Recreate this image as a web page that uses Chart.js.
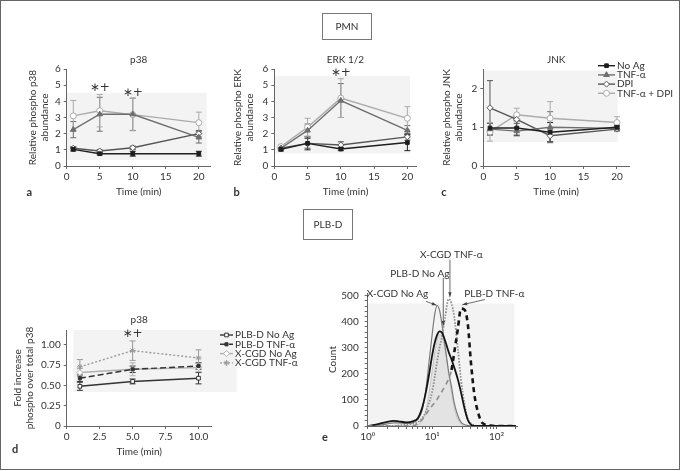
<!DOCTYPE html>
<html>
<head>
<meta charset="utf-8">
<title>MAPK phosphorylation in PMN and PLB-D cells</title>
<script src="https://cdn.jsdelivr.net/npm/chart.js@4.4.1/dist/chart.umd.min.js"></script>
<style>
  body { margin: 0; background: #fff; }
  #fig { position: relative; width: 681px; height: 471px; overflow: hidden; }
  #frame { position: absolute; left: 0; top: 0; width: 680px; height: 470px; box-sizing: border-box; border: 1px solid #666; }
  canvas { position: absolute; }
</style>
</head>
<body>
<div id="fig">
  <canvas id="tags" width="681" height="471" style="left:0;top:0"></canvas>
  <canvas id="chartA" width="230" height="150" style="left:0;top:50px"></canvas>
  <canvas id="chartB" width="210" height="150" style="left:220px;top:50px"></canvas>
  <canvas id="chartC" width="249" height="150" style="left:430px;top:50px"></canvas>
  <canvas id="chartD" width="300" height="156" style="left:0;top:305px"></canvas>
  <canvas id="chartE" width="220" height="200" style="left:320px;top:245px"></canvas>
  <div id="frame"></div>
</div>

<script>
/* ------------------- DATA: PMN time courses (a-c) ------------------- */
const pmnTimes = [1, 5, 10, 20];
const pmnLabels = ['No Ag', 'TNF-α', 'DPI', 'TNF-α + DPI'];

// a: p38
const p38NoAg = [1.03, 0.76, 0.76, 0.76];
const p38Tnf = [2.25, 3.2, 3.2, 1.77];
const p38Dpi = [1.1, 0.93, 1.13, 2.0];
const p38TnfDpi = [3.1, 3.42, 3.18, 2.68];
const p38NoAgErr = [0.1, 0.08, 0.15, 0.15];
const p38TnfErr = [0.5, 1.05, 1.0, 0.35];
const p38DpiErr = [0.1, 0.08, 0.1, 0.2];
const p38TnfDpiErr = [0.95, 1.0, 1.0, 0.65];
const p38Stars = [[5, 4.83], [10, 4.5]];

// b: ERK 1/2
const erkNoAg = [1.03, 1.4, 1.05, 1.45];
const erkTnf = [1.1, 2.2, 4.05, 2.2];
const erkDpi = [1.1, 1.4, 1.3, 1.8];
const erkTnfDpi = [1.2, 2.4, 4.2, 2.95];
const erkNoAgErr = [0.1, 0.4, 0.1, 0.5];
const erkTnfErr = [0.1, 0.4, 1.05, 0.3];
const erkDpiErr = [0.1, 0.3, 0.2, 0.2];
const erkTnfDpiErr = [0.1, 0.55, 1.2, 0.72];
const erkStars = [[10, 5.75]];

// c: JNK
const jnkNoAg = [0.98, 0.98, 0.87, 1.0];
const jnkTnf = [0.95, 0.9, 1.0, 0.97];
const jnkDpi = [1.5, 1.2, 0.78, 0.95];
const jnkTnfDpi = [0.88, 1.32, 1.23, 1.12];
const jnkNoAgErr = [0.12, 0.2, 0.25, 0.05];
const jnkTnfErr = [0.15, 0.1, 0.4, 0.05];
const jnkDpiErr = [0.7, 0.1, 0.15, 0.05];
const jnkTnfDpiErr = [0.24, 0.17, 0.43, 0.15];

/* ------------------- DATA: PLB-D p38 (d) ------------------- */
const plbTimes = [1, 5, 10];
const plbLabels = ['PLB-D No Ag', 'PLB-D TNF-α', 'X-CGD No Ag', 'X-CGD TNF-α'];
const plbNoAg = [0.49, 0.55, 0.59];
const plbTnf = [0.59, 0.70, 0.74];
const xcgdNoAg = [0.66, 0.70, 0.72];
const xcgdTnf = [0.73, 0.93, 0.84];
const plbNoAgErr = [0.05, 0.03, 0.07];
const plbTnfErr = [0.04, 0.04, 0.04];
const xcgdNoAgErr = [0.05, 0.08, 0.05];
const xcgdTnfErr = [0.09, 0.12, 0.1];
const plbStars = [[5, 1.135]];

/* ------------------- DATA: flow histogram (e) ------------------- */
const histBins = [1, 1.5, 2, 2.5, 3, 4, 5, 6, 7, 8, 9, 10, 11, 12, 13, 14, 16, 18, 20, 22, 25, 28, 32, 36, 40, 45, 50, 60, 80, 100, 200];
const histXcgdNoAg = [0, 3, 8, 12, 12, 10, 12, 25, 60, 140, 250, 350, 430, 462, 445, 400, 300, 210, 150, 90, 40, 15, 5, 2, 0, 0, 0, 0, 0, 0, 0];
const histPlbNoAg = [0, 8, 16, 20, 18, 14, 18, 30, 70, 130, 200, 270, 320, 350, 363, 360, 325, 285, 255, 225, 180, 130, 65, 22, 5, 0, 0, 0, 0, 0, 0];
const histXcgdTnf = [0, 0, 0, 0, 2, 5, 8, 14, 30, 55, 90, 130, 190, 250, 300, 335, 420, 487, 470, 420, 300, 180, 80, 25, 10, 3, 0, 0, 0, 0, 0];
const histPlbTnf = [0, 0, 0, 0, 0, 0, 0, 10, 25, 45, 62, 78, 90, 103, 118, 130, 155, 180, 215, 280, 370, 450, 445, 385, 245, 125, 65, 12, 2, 0, 0];
const histControl = [0, 0, 0, 0, 0, 0, 0, 5, 20, 60, 130, 210, 280, 330, 350, 345, 290, 200, 130, 70, 25, 8, 0, 0, 0, 0, 0, 0, 0, 0, 0];
const histNotes = [
  { text: 'X-CGD No Ag', at: [2.9, 506], from: [8.0, 478], to: [11.7, 463] },
  { text: 'PLB-D No Ag', at: [6.47, 583], from: [14.9, 568], to: [14.9, 385] },
  { text: 'X-CGD TNF-α', at: [19.9, 658], from: [18.9, 638], to: [18.9, 495] },
  { text: 'PLB-D TNF-α', at: [92.5, 506], from: [65.9, 485], to: [29.5, 465] }
];

/* ------------------- STYLES ------------------- */
const FONT = 'Lato, "Liberation Sans", sans-serif';
Chart.defaults.font.family = FONT;
Chart.defaults.font.size = 10;
Chart.defaults.color = '#333';

const pmnStyles = [
  { color: '#1e1e1e', point: 'rect', bg: '#1e1e1e', r: 2.6 },
  { color: '#6e6e6e', point: 'triangle', bg: '#6e6e6e', r: 3.2 },
  { color: '#555555', point: 'rectRot', bg: '#ffffff', r: 3 },
  { color: '#ababab', point: 'circle', bg: '#ffffff', r: 3 }
];
const plbStyles = [
  { color: '#333333', point: 'rect', bg: '#ffffff', r: 2.6 },
  { color: '#333333', point: 'rect', bg: '#333333', r: 2.2, dash: [6, 3] },
  { color: '#b0b0b0', point: 'rectRot', bg: '#ffffff', r: 3 },
  { color: '#9a9a9a', point: 'star', bg: '#9a9a9a', r: 3, dash: [2, 2] }
];

// section boxes above the two rows of panels
(function drawTags() {
  const ctx = document.getElementById('tags').getContext('2d');
  ctx.strokeStyle = '#777';
  ctx.lineWidth = 1;
  ctx.fillStyle = '#333';
  ctx.font = '10px ' + FONT;
  ctx.textAlign = 'center';
  ctx.textBaseline = 'middle';
  [['PMN', 322, 13, 50, 27], ['PLB-D', 303, 209, 50, 31]].forEach(([t, x, y, w, h]) => {
    ctx.strokeRect(x + 0.5, y + 0.5, w - 1, h - 1);
    ctx.fillText(t, x + w / 2, y + h / 2 + 0.5);
  });
})();

function makeSeries(times, groups, labels, styles) {
  return groups.map(([vals, errs], i) => ({
    label: labels[i],
    data: times.map((t, j) => ({ x: t, y: vals[j] })),
    errors: errs,
    borderColor: styles[i].color,
    borderWidth: 1.4,
    borderDash: styles[i].dash || [],
    pointStyle: styles[i].point,
    pointRadius: styles[i].r,
    pointBackgroundColor: styles[i].bg,
    pointBorderColor: styles[i].color,
    pointBorderWidth: 1,
    tension: 0
  }));
}

/* ------------------- PLUGIN: shading, error bars, labels ------------------- */
const figPlugin = {
  id: 'fig',
  beforeDraw(chart, args, opts) {
    if (!opts.shade) return;
    const { ctx, scales: { x, y } } = chart;
    const s = opts.shade;
    const x0 = x.getPixelForValue(s[0]), x1 = x.getPixelForValue(s[1]);
    const y0 = y.getPixelForValue(s[3]), y1 = y.getPixelForValue(s[2]);
    ctx.save();
    ctx.fillStyle = '#f3f3f3';
    ctx.fillRect(x0, y0, x1 - x0, y1 - y0);
    ctx.restore();
  },
  beforeDatasetsDraw(chart) {
    const { ctx, scales: { x, y } } = chart;
    chart.data.datasets.forEach(ds => {
      if (!ds.errors) return;
      ctx.save();
      ctx.strokeStyle = ds.borderColor;
      ctx.lineWidth = 1;
      ds.data.forEach((p, j) => {
        const e = ds.errors[j];
        const px = x.getPixelForValue(p.x);
        const top = y.getPixelForValue(p.y + e);
        const bot = y.getPixelForValue(p.y - e);
        ctx.beginPath();
        ctx.moveTo(px, top); ctx.lineTo(px, bot);
        ctx.moveTo(px - 3, top); ctx.lineTo(px + 3, top);
        ctx.moveTo(px - 3, bot); ctx.lineTo(px + 3, bot);
        ctx.stroke();
      });
      ctx.restore();
    });
  },
  afterDraw(chart, args, opts) {
    const { ctx, scales: { x, y } } = chart;
    ctx.save();
    ctx.fillStyle = '#333';
    ctx.textBaseline = 'middle';
    if (opts.letter) {
      ctx.font = 'bold 11px ' + FONT;
      ctx.textAlign = 'center';
      ctx.fillText(opts.letter.text, opts.letter.x, opts.letter.y);
    }
    (opts.stars || []).forEach(s => {
      ctx.font = '12px "DejaVu Sans", sans-serif';
      ctx.textAlign = 'center';
      ctx.fillText('∗+', x.getPixelForValue(s[0]), y.getPixelForValue(s[1]));
    });
    if (opts.legend) {
      const lg = opts.legend;
      chart.data.datasets.forEach((ds, k) => {
        const ly = lg.y + k * lg.row;
        ctx.strokeStyle = ds.borderColor;
        ctx.lineWidth = ds.borderWidth;
        ctx.setLineDash(ds.borderDash || []);
        ctx.beginPath();
        ctx.moveTo(lg.x, ly); ctx.lineTo(lg.x + lg.len, ly);
        ctx.stroke();
        ctx.setLineDash([]);
        ctx.fillStyle = ds.pointBackgroundColor;
        ctx.lineWidth = 1;
        Chart.helpers.drawPoint(ctx, { pointStyle: ds.pointStyle, radius: ds.pointRadius, borderWidth: 1, rotation: 0 },
          lg.x + lg.len / 2, ly);
        ctx.fillStyle = '#333';
        ctx.font = '10px ' + FONT;
        ctx.textAlign = 'left';
        ctx.fillText(ds.label, lg.x + lg.len + 2, ly);
      });
    }
    (opts.notes || []).forEach(n => {
      ctx.font = '10px ' + FONT;
      ctx.textAlign = 'center';
      ctx.fillStyle = '#333';
      ctx.fillText(n.text, x.getPixelForValue(n.at[0]), y.getPixelForValue(n.at[1]));
      const fx = x.getPixelForValue(n.from[0]), fy = y.getPixelForValue(n.from[1]);
      const tx = x.getPixelForValue(n.to[0]), ty = y.getPixelForValue(n.to[1]);
      ctx.strokeStyle = '#444';
      ctx.lineWidth = 0.8;
      ctx.beginPath(); ctx.moveTo(fx, fy); ctx.lineTo(tx, ty); ctx.stroke();
      const a = Math.atan2(ty - fy, tx - fx);
      ctx.fillStyle = '#444';
      ctx.beginPath();
      ctx.moveTo(tx, ty);
      ctx.lineTo(tx - 5 * Math.cos(a - 0.35), ty - 5 * Math.sin(a - 0.35));
      ctx.lineTo(tx - 5 * Math.cos(a + 0.35), ty - 5 * Math.sin(a + 0.35));
      ctx.closePath(); ctx.fill();
    });
    ctx.restore();
  }
};

/* ------------------- RENDER: time-course panels ------------------- */
function timePanel(canvasId, cfg) {
  const xTicks = { stepSize: cfg.xStep, includeBounds: false, padding: 2, maxRotation: 0, autoSkip: false };
  if (cfg.xFmt) xTicks.callback = cfg.xFmt;
  const yTicks = { stepSize: cfg.yStep, includeBounds: false, padding: 3, autoSkip: false };
  if (cfg.yFmt) yTicks.callback = cfg.yFmt;
  return new Chart(document.getElementById(canvasId), {
    type: 'line',
    data: { datasets: cfg.datasets },
    options: {
      responsive: false,
      animation: false,
      events: [],
      layout: { padding: { left: cfg.padLeft, right: cfg.padRight, top: 0, bottom: 0 } },
      plugins: {
        legend: { display: false },
        tooltip: { enabled: false },
        title: {
          display: true, text: cfg.title, fullSize: false, color: '#333',
          font: { size: 10, weight: 'normal' },
          padding: { top: cfg.titleTop, bottom: cfg.titleBottom }
        },
        fig: cfg.fig
      },
      scales: {
        x: {
          type: 'linear', min: 0, max: cfg.xMax,
          border: { color: '#666' },
          grid: { drawOnChartArea: false, tickLength: 3, color: '#666' },
          ticks: xTicks,
          title: { display: true, text: 'Time (min)', color: '#333', font: { size: 10 }, padding: { top: 0, bottom: cfg.xTitlePad } },
          afterFit: s => { s.height = cfg.xHeight; }
        },
        y: {
          type: 'linear', min: 0, max: cfg.yMax,
          border: { color: '#666' },
          grid: { drawOnChartArea: false, tickLength: 3, color: '#666' },
          ticks: yTicks,
          title: { display: true, text: cfg.yTitle, color: '#333', font: { size: 10 }, padding: 0 },
          afterFit: s => { s.width = cfg.yWidth; }
        }
      }
    },
    plugins: [figPlugin]
  });
}

timePanel('chartA', {
  title: 'p38', titleTop: 4, titleBottom: 3,
  datasets: makeSeries(pmnTimes, [[p38NoAg, p38NoAgErr], [p38Tnf, p38TnfErr], [p38Dpi, p38DpiErr], [p38TnfDpi, p38TnfDpiErr]], pmnLabels, pmnStyles),
  padLeft: 27, padRight: 19.3, yWidth: 39.7, xHeight: 34, xTitlePad: 2,
  xMax: 21.8, xStep: 5, yMax: 6, yStep: 1,
  yTitle: ['Relative phospho p38', 'abundance'],
  fig: { shade: [0, 21.2, 0.37, 4.53], stars: p38Stars, letter: { text: 'a', x: 29.3, y: 142 } }
});

timePanel('chartB', {
  title: 'ERK 1/2', titleTop: 4, titleBottom: 3,
  datasets: makeSeries(pmnTimes, [[erkNoAg, erkNoAgErr], [erkTnf, erkTnfErr], [erkDpi, erkDpiErr], [erkTnfDpi, erkTnfDpiErr]], pmnLabels, pmnStyles),
  padLeft: 12, padRight: 13.3, yWidth: 42.3, xHeight: 34, xTitlePad: 2,
  xMax: 21.4, xStep: 5, yMax: 6, yStep: 1,
  yTitle: ['Relative phospho ERK', 'abundance'],
  fig: { shade: [0, 20.4, 0.78, 5.57], stars: erkStars, letter: { text: 'b', x: 16.7, y: 142 } }
});

timePanel('chartC', {
  title: 'JNK', titleTop: 4, titleBottom: 3,
  datasets: makeSeries(pmnTimes, [[jnkNoAg, jnkNoAgErr], [jnkTnf, jnkTnfErr], [jnkDpi, jnkDpiErr], [jnkTnfDpi, jnkTnfDpiErr]], pmnLabels, pmnStyles),
  padLeft: 11, padRight: 50, yWidth: 42.3, xHeight: 34, xTitlePad: 2,
  xMax: 21.8, xStep: 5, yMax: 2.5, yStep: 1,
  yTitle: ['Relative phospho JNK', 'abundance'],
  fig: { shade: [0, 20.1, 0.62, 2.46], letter: { text: 'c', x: 14, y: 142 },
         legend: { x: 168, y: 15.7, row: 9.2, len: 17 } }
});

timePanel('chartD', {
  title: 'p38', titleTop: 9, titleBottom: 4,
  datasets: makeSeries(plbTimes, [[plbNoAg, plbNoAgErr], [plbTnf, plbTnfErr], [xcgdNoAg, xcgdNoAgErr], [xcgdTnf, xcgdTnfErr]], plbLabels, plbStyles),
  padLeft: 12, padRight: 88.3, yWidth: 54.7, xHeight: 35, xTitlePad: 3,
  xMax: 11, xStep: 2.5, yMax: 1.185, yStep: 0.25,
  xFmt: v => (v === 0 ? '0' : v.toFixed(1)),
  yFmt: v => (v === 0 ? '0' : v.toFixed(2)),
  yTitle: ['Fold increase', 'phospho over total p38'],
  fig: { shade: [0.5, 12.9, 0.42, 1.185], stars: plbStars, letter: { text: 'd', x: 15, y: 144 },
         legend: { x: 220, y: 30, row: 9.3, len: 13 } }
});

/* ------------------- RENDER: histogram (e) ------------------- */
function histSeries(counts, color, width, dash, fill) {
  return {
    data: histBins.map((b, i) => ({ x: b, y: counts[i] })),
    borderColor: color,
    borderWidth: width,
    borderDash: dash,
    pointRadius: 0,
    cubicInterpolationMode: 'monotone',
    fill: fill ? 'origin' : false,
    backgroundColor: fill || 'transparent'
  };
}

const plbTnfSeries = histSeries(histPlbTnf, '#151515', 2.6, [5, 4]);
// the rising flank under the other curves prints as a lighter dashed line
plbTnfSeries.segment = { borderColor: c => (c.p1.parsed.x <= 20 ? '#8c8c8c' : undefined),
                         borderWidth: c => (c.p1.parsed.x <= 20 ? 1.6 : undefined) };

const histDatasets = [
  plbTnfSeries,
  histSeries(histPlbNoAg, '#151515', 1.8, []),
  histSeries(histXcgdTnf, '#8a8a8a', 1.8, [1.5, 1.5]),
  histSeries(histXcgdNoAg, '#7a7a7a', 1.2, []),
  histSeries(histControl, '#c4c4c4', 1, [], '#e3e3e3')
];

const isPow10 = v => Math.abs(Math.log10(v) - Math.round(Math.log10(v))) < 1e-6;
const supDigits = ['⁰', '¹', '²', '³'];

new Chart(document.getElementById('chartE'), {
  type: 'line',
  data: { datasets: histDatasets },
  options: {
    responsive: false,
    animation: false,
    events: [],
    layout: { padding: { left: 7, right: 22.3, top: 48, bottom: 0 } },
    plugins: {
      legend: { display: false },
      tooltip: { enabled: false },
      fig: { shade: [1, 190, 0, 470], notes: histNotes, letter: { text: 'e', x: 5, y: 192 } }
    },
    scales: {
      x: {
        type: 'logarithmic', min: 1, max: 213,
        border: { color: '#666' },
        grid: { drawOnChartArea: false, tickLength: 3, color: '#666' },
        afterBuildTicks: s => {
          s.ticks = s.ticks.filter(t => {
            const m = t.value / Math.pow(10, Math.floor(Math.log10(t.value) + 1e-9));
            return Math.abs(m - Math.round(m)) < 1e-6;
          });
        },
        ticks: {
          autoSkip: false, maxRotation: 0, padding: 2,
          callback: v => (isPow10(v) ? '10' + supDigits[Math.round(Math.log10(v))] : '')
        },
        afterFit: s => { s.height = 19; }
      },
      y: {
        type: 'linear', min: 0, max: 510,
        border: { color: '#666' },
        grid: { drawOnChartArea: false, tickLength: 3, color: '#666' },
        ticks: { stepSize: 20, includeBounds: false, autoSkip: false, padding: 6,
                 callback: v => (v % 100 === 0 ? String(v) : '') },
        title: { display: true, text: 'Count', color: '#333', font: { size: 10 }, padding: 0 },
        afterFit: s => { s.width = 40.7; }
      }
    }
  },
  plugins: [figPlugin]
});
</script>
</body>
</html>
